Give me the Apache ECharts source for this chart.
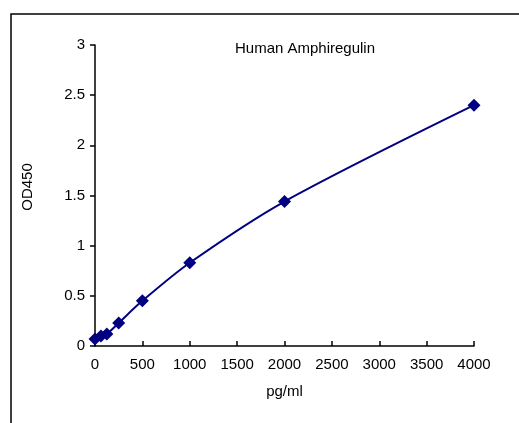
<!DOCTYPE html>
<html>
<head>
<meta charset="utf-8">
<script src="https://cdn.jsdelivr.net/npm/echarts@6/dist/echarts.min.js"></script>
<style>
  html, body { margin: 0; padding: 0; background: #fff; }
  #chart { width: 519px; height: 423px; }
</style>
</head>
<body>
<div id="chart"></div>
<script>
// standard curve readings
const concentrations = [0, 62.5, 125, 250, 500, 1000, 2000, 4000]
const odValues = [0.07, 0.10, 0.12, 0.23, 0.45, 0.83, 1.44, 2.40]

const chartTitle = 'Human Amphiregulin'
const xName = 'pg/ml'
const yName = 'OD450'

const font = 'Liberation Sans, Arial, sans-serif'

const chart = echarts.init(document.getElementById('chart'))

chart.setOption({
  animation: false,
  grid: { left: 95, right: 45, top: 45, bottom: 77 },
  graphic: [
    {
      type: 'rect',
      shape: { x: 11, y: 14, width: 600, height: 500 },
      style: { fill: 'none', stroke: '#000', lineWidth: 1.5 }
    },
    {
      type: 'text',
      x: 305, y: 41,
      style: { text: chartTitle, font: '15px ' + font, fill: '#000', textAlign: 'center' }
    },
    {
      // y axis title sits a little above the plot middle
      type: 'text',
      x: 28, y: 187,
      rotation: Math.PI / 2,
      style: { text: yName, font: '15px ' + font, fill: '#000', textAlign: 'center', textVerticalAlign: 'middle' }
    }
  ],
  xAxis: {
    type: 'value',
    min: 0, max: 4000, interval: 500,
    name: xName,
    nameLocation: 'middle',
    nameGap: 38,
    nameTextStyle: { fontFamily: font, fontSize: 15, color: '#000' },
    axisLine: { lineStyle: { color: '#000', width: 1.5 } },
    axisTick: { inside: true, length: 5, lineStyle: { color: '#000', width: 1.5 } },
    axisLabel: { fontFamily: font, fontSize: 15, color: '#000', margin: 11, formatter: v => String(v) },
    splitLine: { show: false }
  },
  yAxis: {
    type: 'value',
    min: 0, max: 3, interval: 0.5,
    axisLine: { show: true, lineStyle: { color: '#000', width: 1.5 } },
    axisTick: { show: true, length: 5, lineStyle: { color: '#000', width: 1.5 } },
    axisLabel: { fontFamily: font, fontSize: 15, color: '#000', margin: 10 },
    splitLine: { show: false }
  },
  series: [
    {
      type: 'line',
      data: concentrations.map((c, i) => [c, odValues[i]]),
      smooth: 0.3,
      symbol: 'diamond',
      symbolSize: 13,
      itemStyle: { color: '#000080' },
      lineStyle: { color: '#000080', width: 2 }
    }
  ]
})
</script>
</body>
</html>
